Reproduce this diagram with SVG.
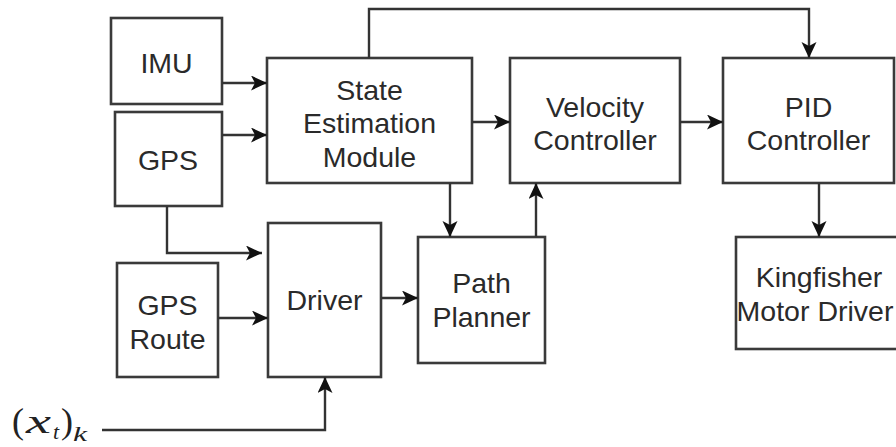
<svg xmlns="http://www.w3.org/2000/svg" width="896" height="447" viewBox="0 0 896 447">
  <defs>
    <marker id="arrow" markerUnits="userSpaceOnUse" markerWidth="18" markerHeight="16" refX="16" refY="7.5" orient="auto">
      <path d="M0,0 L16,7.5 L0,15 L4,7.5 Z" fill="#111"/>
    </marker>
  </defs>
  <style>
    .box { fill: #ffffff; stroke: #3a3a3a; stroke-width: 2.6; }
    .lbl { font-family: "Liberation Sans", Arial, sans-serif; font-size: 28.5px; fill: #2a2a2a; text-anchor: middle; }
    .wire { fill: none; stroke: #333; stroke-width: 2.4; }
    .up { font-family: "Liberation Serif", "DejaVu Serif", serif; fill: #222; }
    .it { font-family: "Liberation Serif", "DejaVu Serif", serif; font-style: italic; fill: #222; }
  </style>
  <rect width="896" height="447" fill="#ffffff"/>

  <g id="imu">
    <rect class="box" x="111" y="18" width="111" height="86"/>
    <text class="lbl" x="166.5" y="73">IMU</text>
  </g>
  <g id="gps">
    <rect class="box" x="115" y="112" width="107" height="94"/>
    <text class="lbl" x="168" y="170">GPS</text>
  </g>
  <g id="gps-route">
    <rect class="box" x="117" y="263" width="101" height="114"/>
    <text class="lbl" x="167.5" y="315">GPS</text>
    <text class="lbl" x="167.5" y="349">Route</text>
  </g>
  <g id="state-estimation">
    <rect class="box" x="267" y="58" width="205" height="125"/>
    <text class="lbl" x="369.5" y="100">State</text>
    <text class="lbl" x="369.5" y="133">Estimation</text>
    <text class="lbl" x="369.5" y="167">Module</text>
  </g>
  <g id="driver">
    <rect class="box" x="268" y="223" width="113" height="154"/>
    <text class="lbl" x="324.5" y="310">Driver</text>
  </g>
  <g id="path-planner">
    <rect class="box" x="418" y="237" width="127" height="126"/>
    <text class="lbl" x="481.5" y="293">Path</text>
    <text class="lbl" x="481.5" y="327">Planner</text>
  </g>
  <g id="velocity-controller">
    <rect class="box" x="510" y="58" width="170" height="125"/>
    <text class="lbl" x="595" y="117">Velocity</text>
    <text class="lbl" x="595" y="150">Controller</text>
  </g>
  <g id="pid-controller">
    <rect class="box" x="723" y="58" width="171" height="125"/>
    <text class="lbl" x="808.5" y="117">PID</text>
    <text class="lbl" x="808.5" y="150">Controller</text>
  </g>
  <g id="kingfisher">
    <rect class="box" x="736" y="237" width="170" height="112"/>
    <text class="lbl" x="819" y="287">Kingfisher</text>
    <text class="lbl" x="815" y="321" font-size="27">Motor Driver</text>
  </g>

  <!-- input sequence label (x_t)_k -->
  <g id="input-label">
    <text class="up" x="12" y="433" font-size="36">(</text>
    <text class="it" x="26" y="433" font-size="33" textLength="25" lengthAdjust="spacingAndGlyphs">x</text>
    <text class="it" x="53" y="439" font-size="22">t</text>
    <text class="up" x="61" y="433" font-size="36">)</text>
    <text class="it" x="73" y="441" font-size="22" textLength="14" lengthAdjust="spacingAndGlyphs">k</text>
  </g>

  <g id="connectors">
    <path class="wire" d="M222,83 H267" marker-end="url(#arrow)"/>
    <path class="wire" d="M222,135 H267" marker-end="url(#arrow)"/>
    <path class="wire" d="M167,206 V253 H262" marker-end="url(#arrow)"/>
    <path class="wire" d="M218,318 H268" marker-end="url(#arrow)"/>
    <path class="wire" d="M102,430 H325 V377" marker-end="url(#arrow)"/>
    <path class="wire" d="M381,298 H418" marker-end="url(#arrow)"/>
    <path class="wire" d="M450,183 V237" marker-end="url(#arrow)"/>
    <path class="wire" d="M536,237 V183" marker-end="url(#arrow)"/>
    <path class="wire" d="M472,122 H510" marker-end="url(#arrow)"/>
    <path class="wire" d="M680,122 H723" marker-end="url(#arrow)"/>
    <path class="wire" d="M369,58 V9 H809 V58" marker-end="url(#arrow)"/>
    <path class="wire" d="M819,183 V237" marker-end="url(#arrow)"/>
  </g>
</svg>
